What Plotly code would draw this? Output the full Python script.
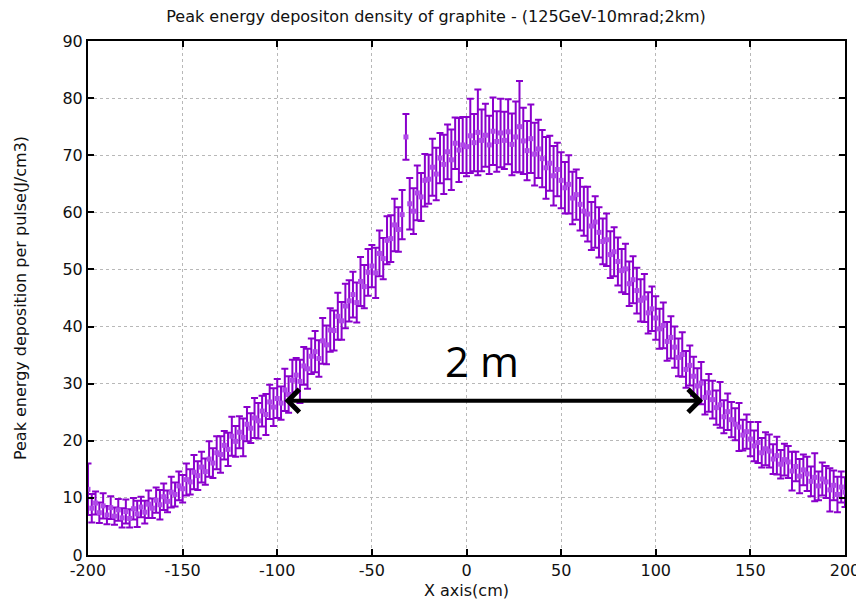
import plotly.graph_objects as go

# x positions (cm), every 2 cm
x_cm = list(range(-200, 201, 2))

# peak energy deposition (J/cm3)
dep = [
    11.5, 8.2, 9.1, 7.4, 8.6,
    7.0, 8.3, 6.8, 7.9, 6.5,
    7.6, 6.4, 8.1, 7.2, 8.4,
    7.5, 8.9, 8.2, 9.6, 8.8,
    10.2, 9.4, 11.0, 10.6, 12.1,
    11.6, 13.2, 12.8, 14.5, 13.9,
    15.4, 14.6, 16.8, 16.1, 17.9,
    17.6, 19.2, 18.5, 20.8, 19.9,
    21.5, 20.6, 22.9, 22.2, 24.0,
    23.5, 25.2, 24.6, 26.8, 25.9,
    27.4, 26.6, 28.9, 28.1, 30.6,
    31.5, 30.4, 33.1, 32.6, 34.8,
    35.6, 34.4, 37.5, 36.8, 39.4,
    39.3, 41.8, 41.0, 43.6, 44.5,
    45.6, 44.2, 47.9, 47.0, 49.5,
    50.6, 49.4, 52.8, 51.9, 55.1,
    55.4, 57.8, 57.0, 59.6, 73.2,
    61.5, 60.2, 63.4, 62.7, 65.6,
    65.8, 67.9, 66.7, 69.5, 68.4,
    70.6, 69.2, 72.1, 70.9, 71.8,
    71.5, 73.4, 72.2, 74.0, 72.6,
    73.5, 71.8, 74.2, 72.4, 73.9,
    72.6, 74.1, 71.9, 73.2, 75.0,
    72.5, 70.8, 72.9, 70.2, 71.1,
    69.4, 67.8, 68.6, 66.4, 67.5,
    65.6, 64.3, 64.9, 62.5, 63.1,
    61.4, 60.2, 59.7, 57.6, 58.3,
    56.5, 54.9, 55.2, 52.6, 53.1,
    51.4, 49.8, 50.1, 47.5, 48.2,
    46.3, 44.6, 45.0, 42.4, 43.1,
    41.5, 39.6, 40.2, 37.4, 38.1,
    36.4, 34.6, 35.1, 32.5, 33.2,
    31.3, 29.6, 30.1, 27.6, 28.4,
    27.2, 25.8, 26.3, 24.2, 25.1,
    23.7, 22.9, 22.4, 21.0, 21.6,
    20.3, 19.1, 19.7, 17.9, 18.6,
    18.2, 16.8, 17.4, 15.9, 16.7,
    16.3, 14.7, 15.5, 13.8, 14.9,
    14.2, 12.9, 13.6, 12.1, 13.3,
    12.8, 11.4, 12.2, 10.6, 11.9,
    11.0,
]

# error bar half-lengths (J/cm3)
err = [
    4.5, 2.5, 2.0, 1.8, 2.2,
    1.6, 2.0, 1.5, 1.9, 1.7,
    2.1, 1.6, 1.9, 2.3, 1.8,
    2.0, 2.4, 1.7, 2.2, 2.6,
    2.3, 1.9, 2.7, 2.1, 2.5,
    2.4, 2.8, 2.2, 3.0, 2.5,
    2.7, 2.3, 3.1, 2.6, 2.9,
    3.2, 2.5, 2.9, 3.4, 2.7,
    2.8, 3.3, 3.0, 2.6, 3.5,
    3.1, 2.7, 3.6, 3.0, 3.3,
    3.4, 2.9, 3.7, 3.2, 3.6,
    3.0, 3.8, 3.3, 3.5, 3.1,
    3.6, 3.2, 4.0, 3.4, 3.8,
    3.5, 4.1, 3.3, 3.9, 3.6,
    4.0, 3.5, 4.3, 3.8, 4.1,
    3.7, 4.4, 4.0, 3.6, 4.2,
    4.1, 4.6, 3.9, 4.3, 4.0,
    4.5, 4.0, 4.8, 4.2, 4.6,
    4.3, 5.0, 4.6, 4.4, 5.2,
    4.8, 5.3, 4.5, 5.6, 4.9,
    5.2, 6.5, 5.0, 7.5, 5.4,
    5.5, 5.1, 5.9, 5.3, 6.0,
    5.0, 5.7, 5.4, 6.2, 8.0,
    5.8, 5.2, 6.0, 5.5, 5.1,
    5.0, 5.4, 4.8, 5.2, 4.7,
    4.9, 4.5, 5.1, 4.6, 4.4,
    4.6, 4.3, 4.8, 4.2, 4.5,
    4.4, 4.0, 4.6, 4.1, 4.3,
    4.2, 3.8, 4.4, 3.9, 4.1,
    4.0, 3.7, 4.2, 3.6, 3.9,
    3.8, 3.5, 4.0, 3.4, 3.7,
    3.6, 3.3, 3.9, 3.2, 3.5,
    3.4, 3.1, 3.7, 3.0, 3.3,
    3.3, 3.0, 4.0, 2.9, 3.2,
    3.1, 2.8, 4.2, 2.7, 3.0,
    3.0, 2.7, 3.6, 2.6, 2.9,
    2.9, 2.6, 3.3, 2.5, 2.8,
    2.8, 3.4, 2.6, 3.0, 2.7,
    3.0, 2.6, 4.2, 2.5, 2.9,
    2.8, 3.8, 2.6, 3.1, 2.7,
    2.6,
]

x_ticks = [-200, -150, -100, -50, 0, 50, 100, 150, 200]
y_ticks = [0, 10, 20, 30, 40, 50, 60, 70, 80, 90]

# annotation: 2 m width marker
arrow_start = -97
arrow_end = 125
arrow_level = 27
label_text = "2 m"

bar_col = "#8a00cc"
mark_col = "#b048e8"

fig = go.Figure()
fig.add_trace(go.Scatter(
    x=x_cm, y=dep, mode="markers",
    marker=dict(color=mark_col, size=5, symbol="square", line=dict(width=0)),
    error_y=dict(type="data", array=err, visible=True, color=bar_col,
                 thickness=2, width=3.5),
    showlegend=False, hoverinfo="x+y",
))

fig.add_annotation(
    x=arrow_end, y=arrow_level, ax=arrow_start, ay=arrow_level,
    xref="x", yref="y", axref="x", ayref="y",
    text="", showarrow=True, arrowhead=4, startarrowhead=4, arrowside="end+start",
    arrowwidth=4, arrowsize=1.1, startarrowsize=1.1, arrowcolor="black",
)
fig.add_annotation(
    x=8, y=34, xref="x", yref="y", text=label_text, showarrow=False,
    font=dict(family="Open Sans, Liberation Sans, sans-serif", size=42, color="black"),
)

tick_font = dict(family="DejaVu Sans, Verdana, sans-serif", size=16, color="#111111")
axis_common = dict(
    showline=True, linecolor="black", linewidth=2, mirror="ticks",
    ticks="inside", ticklen=6, tickwidth=2, tickcolor="black",
    showgrid=True, gridcolor="#b8b8b8", griddash="dot", gridwidth=1,
    zeroline=False, automargin=False,
    tickfont=tick_font,
    title_font=dict(family="DejaVu Sans, sans-serif", size=16, color="#111111"),
)

# page body has an 8 px margin, so the figure is made 8 px smaller
fig.update_layout(
    width=856, height=599,
    paper_bgcolor="white", plot_bgcolor="white",
    margin=dict(l=80, r=19, t=33, b=52),
    title=dict(text="Peak energy depositon density of graphite - (125GeV-10mrad;2km)",
               x=0.5, xanchor="center", y=0.986, yanchor="middle",
               font=dict(family="DejaVu Sans, sans-serif", size=16, color="#111111")),
    xaxis=dict(range=[-200, 200], tickvals=x_ticks, ticktext=[str(v) for v in x_ticks],
               title=dict(text="X axis(cm)", standoff=6), **axis_common),
    yaxis=dict(range=[0, 90], tickvals=y_ticks, ticktext=[str(v) for v in y_ticks],
               title=dict(text="Peak energy deposition per pulse(J/cm3)", standoff=32),
               **axis_common),
)

fig.write_html("out.html")
